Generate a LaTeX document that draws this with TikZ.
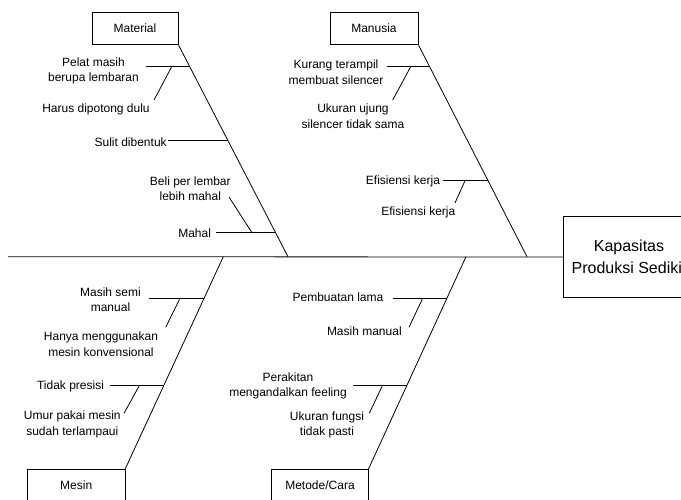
\documentclass[tikz,border=0pt]{standalone}
\usepackage{fontspec}
\setmainfont{Liberation Sans}
\begin{document}
\begin{tikzpicture}[x=1pt,y=-1pt,line width=0.8pt,
  lbl/.style={inner sep=0pt,outer sep=0pt,align=center,font=\fontsize{12}{15.5}\selectfont},
  catbox/.style={draw,inner sep=0pt,outer sep=0pt,minimum height=32pt,font=\fontsize{12}{15.5}\selectfont},
  headbox/.style={draw,inner sep=0pt,outer sep=0pt,align=center,font=\fontsize{16}{21.6}\selectfont}]
\useasboundingbox (0,0) rectangle (681,499);
\clip (0,0) rectangle (681,499);

% head
\node[headbox,minimum width=131.4pt,minimum height=80.6pt] (kap) at (629,257) {Kapasitas\\Produksi Sedikit};
\coordinate (tail) at (8,256.7);
\draw (tail) -- (kap.west);

% category boxes
\node[catbox,minimum width=86pt] (mat) at (135,28) {Material};
\node[catbox,minimum width=88pt] (man) at (374,28) {Manusia};
\node[catbox,minimum width=97.7pt] (mes) at (76.2,485.3) {Mesin};
\node[catbox,minimum width=96.7pt] (met) at (320,485.3) {Metode/Cara};

% spine ends on main line
\coordinate (jmat) at (288,256.7);
\coordinate (jman) at (527,256.7);
\coordinate (jmes) at (223.3,256.7);
\coordinate (jmet) at (466,256.7);
\draw (mat.south east) -- (jmat);
\draw (man.south east) -- (jman);
\draw (mes.north east) -- (jmes);
\draw (met.north east) -- (jmet);

% ---------- Material ----------
\node[lbl] (m1) at (93.5,71) {Pelat masih\\berupa lembaran};
\node[lbl] (m2) at (96,109) {Harus dipotong dulu};
\node[lbl,anchor=east] (m3) at (166.7,142.5) {Sulit dibentuk};
\node[lbl] (m4) at (190.3,188.5) {Beli per lembar\\lebih mahal};
\node[lbl,anchor=east] (m5) at (211,233) {Mahal};
\coordinate (m1a) at (146,66.7);   \coordinate (m1b) at (189.7,66.7);
\coordinate (m2a) at (154,100);    \coordinate (m2b) at (171.7,66.7);
\coordinate (m3a) at (168,140.7);  \coordinate (m3b) at (227.9,140.7);
\coordinate (m4a) at (229,197);    \coordinate (m4b) at (252,232.7);
\coordinate (m5a) at (216,232.7);  \coordinate (m5b) at (275.4,232.7);
\draw (m1a) -- (m1b);
\draw (m2a) -- (m2b);
\draw (m3a) -- (m3b);
\draw (m4a) -- (m4b);
\draw (m5a) -- (m5b);

% ---------- Manusia ----------
\node[lbl] (h1) at (336,72) {Kurang terampil\\membuat silencer};
\node[lbl] (h2) at (353,116) {Ukuran ujung\\silencer tidak sama};
\node[lbl,anchor=east] (h3) at (440,181) {Efisiensi kerja};
\node[lbl] (h4) at (418.3,212) {Efisiensi kerja};
\coordinate (h1a) at (386.7,66.7); \coordinate (h1b) at (429.6,66.7);
\coordinate (h2a) at (392.7,100);  \coordinate (h2b) at (410.7,66.7);
\coordinate (h3a) at (443.3,180.7);\coordinate (h3b) at (488,180.7);
\coordinate (h4a) at (455,203);    \coordinate (h4b) at (465,180.7);
\draw (h1a) -- (h1b);
\draw (h2a) -- (h2b);
\draw (h3a) -- (h3b);
\draw (h4a) -- (h4b);

% ---------- Mesin ----------
\node[lbl] (s1) at (110.5,299.5) {Masih semi\\manual};
\node[lbl] (s2) at (101,344) {Hanya menggunakan\\mesin konvensional};
\node[lbl,anchor=east] (s3) at (104,386) {Tidak presisi};
\node[lbl] (s4) at (72.3,424.5) {Umur pakai mesin\\sudah terlampaui};
\coordinate (s1a) at (149.3,298.3); \coordinate (s1b) at (204.2,298.3);
\coordinate (s2a) at (165.7,327.3); \coordinate (s2b) at (180,298.3);
\coordinate (s3a) at (110,385.7);   \coordinate (s3b) at (163.7,385.7);
\coordinate (s4a) at (124,413.3);   \coordinate (s4b) at (139.3,385.7);
\draw (s1a) -- (s1b);
\draw (s2a) -- (s2b);
\draw (s3a) -- (s3b);
\draw (s4a) -- (s4b);

% ---------- Metode/Cara ----------
\node[lbl,anchor=east] (c1) at (383.3,297.5) {Pembuatan lama};
\node[lbl,anchor=east] (c2) at (401.7,331) {Masih manual};
\node[lbl] (c3) at (288,386) {Perakitan\\mengandalkan feeling};
\node[lbl] (c4) at (327,424.7) {Ukuran fungsi\\tidak pasti};
\coordinate (c1a) at (392.7,298.3); \coordinate (c1b) at (447,298.3);
\coordinate (c2a) at (409,327.3);   \coordinate (c2b) at (422.7,298.3);
\coordinate (c3a) at (352.7,385);   \coordinate (c3b) at (407.1,385);
\coordinate (c4a) at (369.3,413.3); \coordinate (c4b) at (382.7,385);
\draw (c1a) -- (c1b);
\draw (c2a) -- (c2b);
\draw (c3a) -- (c3b);
\draw (c4a) -- (c4b);
\end{tikzpicture}
\end{document}
